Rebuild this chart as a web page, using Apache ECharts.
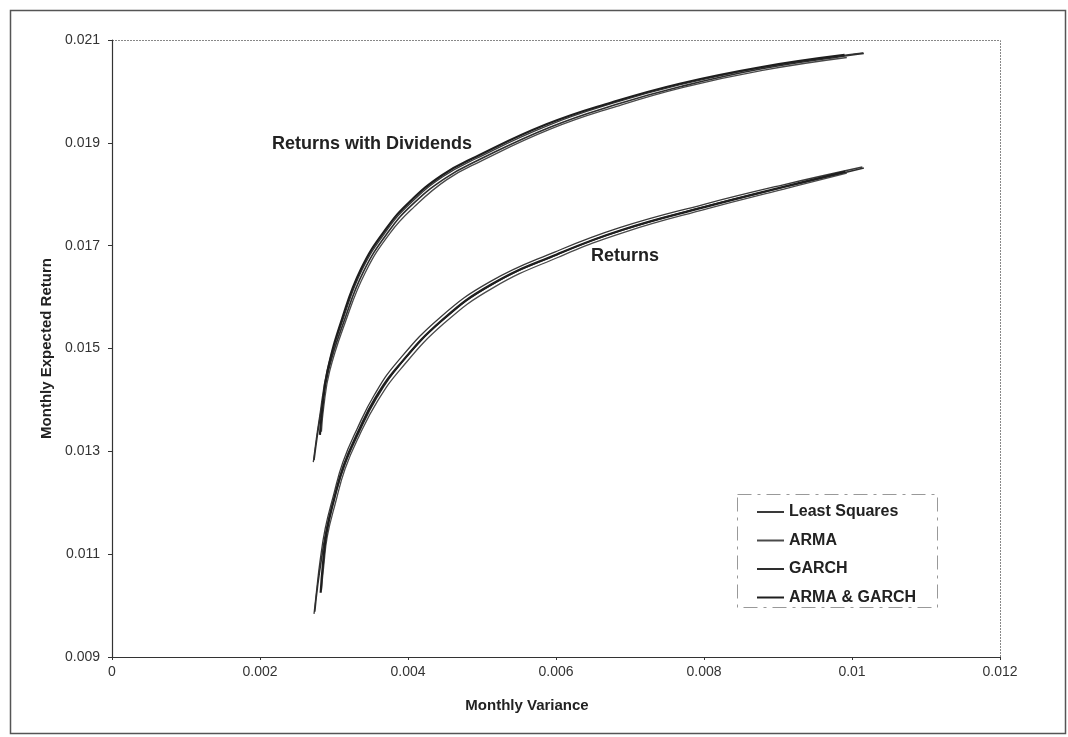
<!DOCTYPE html>
<html>
<head>
<meta charset="utf-8">
<script src="https://cdn.jsdelivr.net/npm/echarts/dist/echarts.min.js"></script>
<style>
html,body{margin:0;padding:0;background:#fff;}
#chart{width:1068px;height:737px;}
</style>
</head>
<body>
<div id="chart"></div>
<script>
// Series names
const seriesNames = ['Least Squares', 'ARMA', 'GARCH', 'ARMA & GARCH'];
// Axis ticks
const xTicks = [0, 0.002, 0.004, 0.006, 0.008, 0.01, 0.012];
const yTicks = [0.009, 0.011, 0.013, 0.015, 0.017, 0.019, 0.021];

// "Returns with Dividends" frontiers: [monthly variance, monthly expected return]
const divLeastSquares = [[0.00272,0.01279],[0.00276,0.01323],[0.00280,0.01362],[0.00291,0.01459],[0.00312,0.01556],[0.00338,0.01653],[0.00372,0.01731],[0.00403,0.01782],[0.00447,0.01834],[0.00493,0.01870],[0.00588,0.01933],[0.00677,0.01977],[0.00768,0.02013],[0.00876,0.02046],[0.00993,0.02071],[0.01015,0.02075]];
const divARMA = [[0.00283,0.01338],[0.00286,0.01385],[0.00294,0.01455],[0.00315,0.01550],[0.00342,0.01647],[0.00376,0.01725],[0.00408,0.01775],[0.00452,0.01828],[0.00498,0.01864],[0.00593,0.01927],[0.00682,0.01971],[0.00772,0.02008],[0.00879,0.02041],[0.00993,0.02066]];
const divGARCH = [[0.00273,0.01283],[0.00277,0.01326],[0.00281,0.01364],[0.00293,0.01460],[0.00314,0.01555],[0.00340,0.01650],[0.00374,0.01728],[0.00405,0.01779],[0.00450,0.01831],[0.00496,0.01867],[0.00591,0.01930],[0.00680,0.01974],[0.00770,0.02010],[0.00878,0.02044],[0.00995,0.02070],[0.01016,0.02074]];
const divARMAGARCH = [[0.00281,0.01332],[0.00284,0.01380],[0.00291,0.01455],[0.00311,0.01558],[0.00337,0.01656],[0.00371,0.01734],[0.00402,0.01785],[0.00446,0.01837],[0.00492,0.01873],[0.00587,0.01936],[0.00676,0.01979],[0.00767,0.02015],[0.00876,0.02047],[0.00990,0.02071]];

// "Returns" frontiers
const retLeastSquares = [[0.00273,0.00984],[0.00277,0.01036],[0.00281,0.01085],[0.00288,0.01149],[0.00299,0.01213],[0.00312,0.01279],[0.00331,0.01343],[0.00355,0.01411],[0.00385,0.01473],[0.00443,0.01560],[0.00511,0.01630],[0.00599,0.01688],[0.00686,0.01735],[0.00799,0.01780],[0.00903,0.01817],[0.01014,0.01853]];
const retARMA = [[0.00283,0.01030],[0.00286,0.01075],[0.00291,0.01135],[0.00302,0.01200],[0.00315,0.01266],[0.00334,0.01330],[0.00359,0.01398],[0.00390,0.01460],[0.00448,0.01548],[0.00516,0.01619],[0.00604,0.01678],[0.00692,0.01726],[0.00805,0.01772],[0.00908,0.01810],[0.00993,0.01841]];
const retGARCH = [[0.00274,0.00988],[0.00278,0.01040],[0.00283,0.01090],[0.00290,0.01150],[0.00301,0.01212],[0.00315,0.01276],[0.00334,0.01338],[0.00358,0.01405],[0.00388,0.01467],[0.00446,0.01554],[0.00514,0.01625],[0.00602,0.01683],[0.00689,0.01730],[0.00802,0.01776],[0.00906,0.01813],[0.01016,0.01851]];
const retARMAGARCH = [[0.00282,0.01025],[0.00285,0.01080],[0.00290,0.01142],[0.00300,0.01206],[0.00313,0.01272],[0.00332,0.01336],[0.00356,0.01404],[0.00387,0.01466],[0.00445,0.01554],[0.00513,0.01625],[0.00601,0.01683],[0.00690,0.01731],[0.00803,0.01776],[0.00906,0.01814],[0.00991,0.01844]];

const groupDiv = [divLeastSquares, divARMA, divGARCH, divARMAGARCH];
const groupRet = [retLeastSquares, retARMA, retGARCH, retARMAGARCH];

const lineStyles = [
  {color:'#3a3a3a', width:1.3},
  {color:'#4a4a4a', width:1.3},
  {color:'#2e2e2e', width:1.6},
  {color:'#1e1e1e', width:2.2}
];

const FONT = '"Liberation Sans", Arial, sans-serif';

const series = [];
[groupDiv, groupRet].forEach(function(group){
  group.forEach(function(data, i){
    series.push({
      name: seriesNames[i],
      type: 'line',
      data: data,
      smooth: 0.45,
      symbol: 'none',
      showSymbol: false,
      lineStyle: {color: lineStyles[i].color, width: lineStyles[i].width},
      itemStyle: {color: lineStyles[i].color},
      emphasis: {disabled: true},
      animation: false
    });
  });
});

function fmt(v){ return String(parseFloat(v.toFixed(4))); }

const chart = echarts.init(document.getElementById('chart'), null, {renderer:'canvas'});
chart.setOption({
  backgroundColor: '#ffffff',
  animation: false,
  grid: {left:112, right:68, top:40, bottom:80, containLabel:false},
  xAxis: {
    type: 'value',
    min: xTicks[0], max: xTicks[xTicks.length-1], interval: 0.002,
    name: 'Monthly Variance', nameLocation: 'middle', nameGap: 41,
    nameTextStyle: {fontFamily: FONT, fontWeight:'bold', fontSize:15, color:'#222', padding:[0,58,0,0]},
    axisLine: {lineStyle:{color:'#333', width:1.2}},
    axisTick: {show:true, inside:false, length:3, lineStyle:{color:'#333'}},
    axisLabel: {fontFamily: FONT, fontSize:14, color:'#333', margin:8, formatter: fmt},
    splitLine: {show:false}
  },
  yAxis: {
    type: 'value',
    min: yTicks[0], max: yTicks[yTicks.length-1], interval: 0.002,
    name: 'Monthly Expected Return', nameLocation: 'middle', nameGap: 57,
    nameTextStyle: {fontFamily: FONT, fontWeight:'bold', fontSize:15, color:'#222'},
    axisLine: {show:true, lineStyle:{color:'#333', width:1.2}},
    axisTick: {show:true, inside:false, length:4, lineStyle:{color:'#333'}},
    axisLabel: {fontFamily: FONT, fontSize:14, color:'#333', margin:12, formatter: function(v){ return v.toFixed(3); }},
    splitLine: {show:false}
  },
  legend: {
    data: seriesNames.map(function(n, i){ return {name:n, icon:'rect', itemStyle:{color:lineStyles[i].color}}; }),
    orient: 'vertical',
    left: 757, top: 504, padding: 0,
    itemWidth: 27, itemHeight: 2, itemGap: 12.5,
    textStyle: {fontFamily: FONT, fontWeight:'bold', fontSize:16, color:'#222', lineHeight:16},
    selectedMode: false
  },
  graphic: [
    {type:'rect', shape:{x:10.5, y:10.5, width:1055, height:723}, style:{fill:'none', stroke:'#555', lineWidth:1.5}, silent:true},
    {type:'polyline', shape:{points:[[112,40.5],[1000.5,40.5],[1000.5,657]]}, style:{fill:'none', stroke:'#888', lineWidth:1, lineDash:[2,1]}, silent:true},
    {type:'rect', shape:{x:737.5, y:494.5, width:200, height:113}, style:{fill:'none', stroke:'#999', lineWidth:1, lineDash:[14,6,3,6]}, silent:true},
    {type:'text', left:272, top:135, style:{text:'Returns with Dividends', font:'bold 18px ' + FONT, fill:'#222'}, silent:true},
    {type:'text', left:591, top:247, style:{text:'Returns', font:'bold 18px ' + FONT, fill:'#222'}, silent:true}
  ],
  series: series
});
</script>
</body>
</html>
